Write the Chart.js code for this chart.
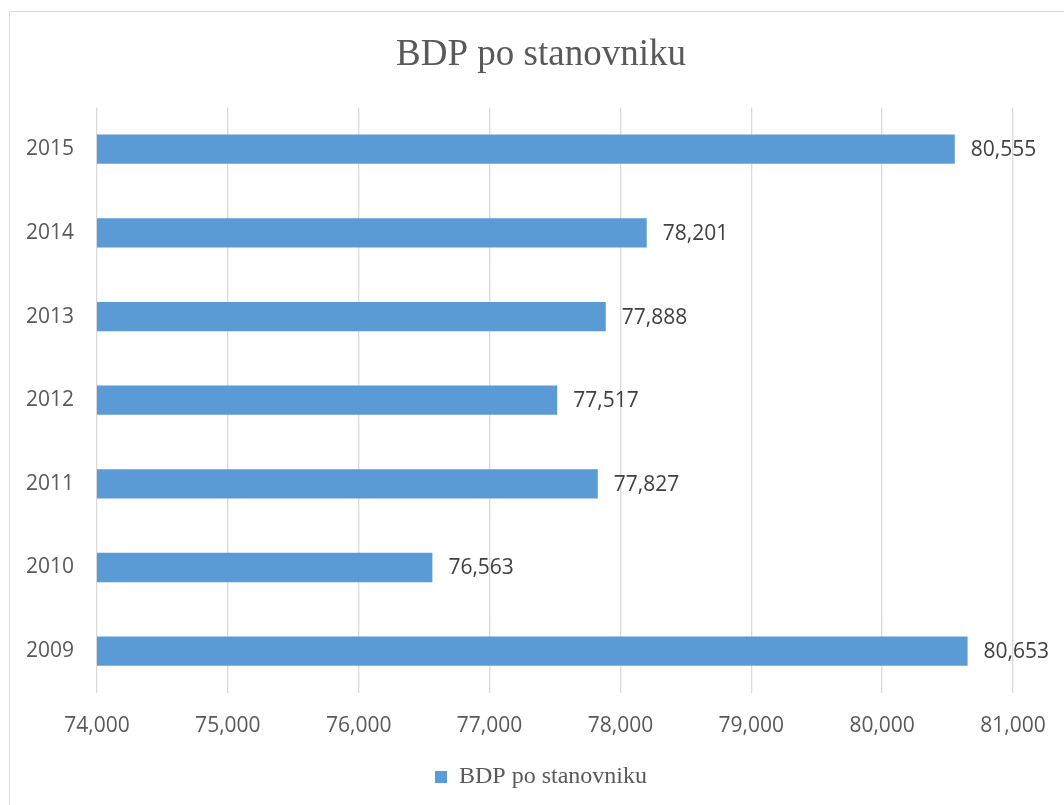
<!DOCTYPE html>
<html>
<head>
<meta charset="utf-8">
<script src="https://cdn.jsdelivr.net/npm/chart.js@4/dist/chart.umd.min.js"></script>
<style>
  html, body { margin: 0; padding: 0; background: #fff; overflow: hidden; }
  #wrap { width: 1064px; height: 805px; position: relative; overflow: hidden; }
  #c { position: absolute; left: 0; top: 0; }
</style>
</head>
<body>
<div id="wrap"><canvas id="c" width="1082" height="805"></canvas></div>
<script>
const years = ['2009', '2010', '2011', '2012', '2013', '2014', '2015'];
const bdpValues = [80653, 76563, 77827, 77517, 77888, 78201, 80555];
const seriesName = 'BDP po stanovniku';
const chartTitle = 'BDP po stanovniku';
const axisMin = 74000;
const axisMax = 81000;
const axisStep = 1000;

const fmt = v => Number(v).toLocaleString('en-US');

const frame = {
  id: 'frame',
  beforeDraw(chart) {
    const ctx = chart.ctx;
    ctx.save();
    ctx.fillStyle = '#ffffff';
    ctx.fillRect(0, 0, chart.width, chart.height);
    ctx.strokeStyle = '#d9d9d9';
    ctx.lineWidth = 1;
    ctx.strokeRect(9.5, 11.5, 1200, 1000);
    ctx.restore();
  }
};

const valueLabels = {
  id: 'valueLabels',
  afterDatasetsDraw(chart) {
    const ctx = chart.ctx;
    const meta = chart.getDatasetMeta(0);
    ctx.save();
    ctx.font = '21px "Open Sans"';
    ctx.fillStyle = '#404040';
    ctx.textAlign = 'left';
    ctx.textBaseline = 'middle';
    meta.data.forEach((bar, i) => {
      ctx.fillText(fmt(chart.data.datasets[0].data[i]), bar.x + 16, bar.y + 1);
    });
    ctx.restore();
  }
};

new Chart(document.getElementById('c'), {
  type: 'bar',
  data: {
    labels: years,
    datasets: [{
      label: seriesName,
      data: bdpValues,
      backgroundColor: '#5b9bd5',
      borderWidth: 0,
      categoryPercentage: 0.35,
      barPercentage: 1.0
    }]
  },
  options: {
    indexAxis: 'y',
    responsive: false,
    animation: false,
    locale: 'en-US',
    layout: { padding: { top: 33, right: 0, bottom: 6, left: 0 } },
    plugins: {
      title: {
        display: true,
        text: chartTitle,
        color: '#595959',
        font: { family: '"Liberation Serif", "Times New Roman", serif', size: 37, weight: 'normal', lineHeight: 1.2 },
        padding: { top: 0, bottom: 30 }
      },
      legend: {
        display: true,
        position: 'bottom',
        labels: {
          boxWidth: 12,
          boxHeight: 12,
          padding: 10,
          color: '#595959',
          font: { family: '"Liberation Serif", "Times New Roman", serif', size: 24 }
        }
      },
      tooltip: { enabled: false }
    },
    scales: {
      x: {
        type: 'linear',
        min: axisMin,
        max: axisMax,
        ticks: {
          stepSize: axisStep,
          color: '#595959',
          padding: 20,
          font: { family: '"Open Sans"', size: 21 },
          callback: v => fmt(v)
        },
        grid: { color: '#d9d9d9', lineWidth: 1.3, drawTicks: false },
        border: { display: false },
        afterFit(scale) { scale.height = 62; }
      },
      y: {
        reverse: true,
        ticks: {
          color: '#595959',
          padding: 23,
          font: { family: '"Open Sans"', size: 21 }
        },
        grid: { display: false, drawTicks: false },
        border: { display: false },
        afterFit(scale) { scale.width = 97; }
      },
      yRight: {
        type: 'category',
        position: 'right',
        display: true,
        ticks: { display: false },
        grid: { display: false, drawTicks: false },
        border: { display: false },
        afterFit(scale) { scale.width = 69; }
      }
    }
  },
  plugins: [frame, valueLabels]
});
</script>
</body>
</html>
